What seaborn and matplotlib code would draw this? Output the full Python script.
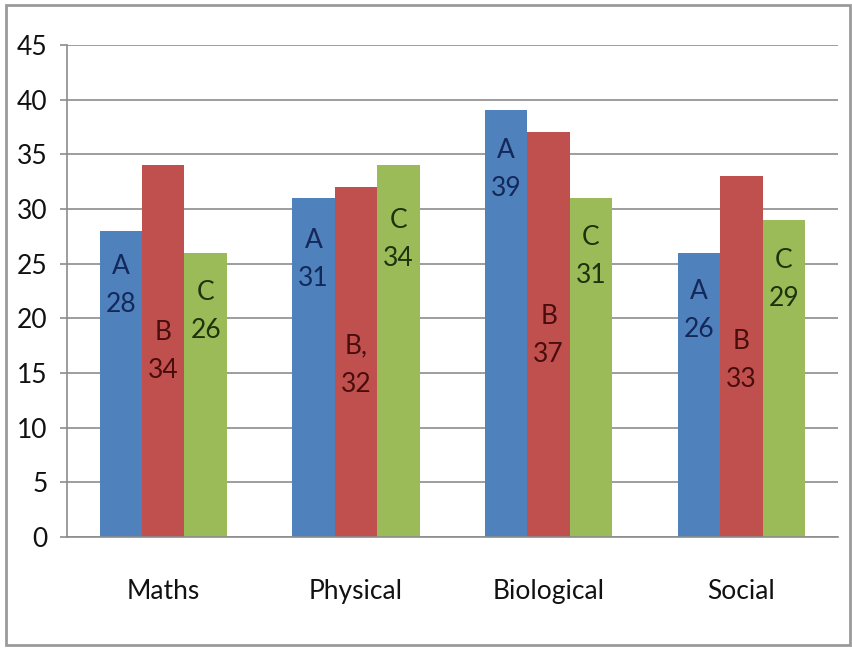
import matplotlib.pyplot as plt
import numpy as np
import pandas as pd
import seaborn as sns
from matplotlib.patches import Rectangle

# chart data
subjects = ["Maths", "Physical", "Biological", "Social"]
groups = ["A", "B", "C"]
scores_a = [28, 31, 39, 26]
scores_b = [34, 32, 37, 33]
scores_c = [26, 34, 31, 29]
# label text per group (Physical B has a stray comma in the original)
label_a = ["A", "A", "A", "A"]
label_b = ["B", "B,", "B", "B"]
label_c = ["C", "C", "C", "C"]

# where the data labels sit inside the bars (data units, centre of the two lines)
label_y = {
    "A": [23.0, 25.4, 33.6, 20.7],
    "B": [17.0, 15.7, 18.4, 16.1],
    "C": [20.6, 27.2, 25.6, 23.5],
}

df = pd.DataFrame({
    "subject": subjects * 3,
    "group": ["A"] * 4 + ["B"] * 4 + ["C"] * 4,
    "score": scores_a + scores_b + scores_c,
    "tag": label_a + label_b + label_c,
})

sns.set_style("white")
plt.rcParams["font.family"] = ["Lato", "DejaVu Sans"]

bar_colors = {"A": "#4F81BD", "B": "#C0504D", "C": "#9BBB59"}
text_colors = {"A": "#14285a", "B": "#4a0d0d", "C": "#1c330c"}

fig = plt.figure(figsize=(8.53, 6.5), dpi=100)
ax = fig.add_axes([0.0785, 0.174, 0.9035, 0.757])

sns.barplot(data=df, x="subject", y="score", hue="group", order=subjects,
            hue_order=groups, palette=bar_colors, width=0.66, gap=0,
            saturation=1, linewidth=0, legend=False, ax=ax)

# data labels, two lines each, drawn at the bar centres
for cont, g in zip(ax.containers, groups):
    sub = df[df["group"] == g].set_index("subject").loc[subjects]
    for bar, tag, val, ly in zip(cont, sub["tag"], sub["score"], label_y[g]):
        xc = bar.get_x() + bar.get_width() / 2
        ax.text(xc, ly, f"{tag}\n{val}", ha="center", va="center",
                fontsize=19, color=text_colors[g], linespacing=1.65)

ax.set_ylim(0, 45)
ax.set_yticks(np.arange(0, 46, 5))
ax.set_xlim(-0.5, len(subjects) - 0.5)
ax.set_xlabel("")
ax.set_ylabel("")
ax.yaxis.grid(True, color="#8c8c8c", linewidth=1.2)
ax.set_axisbelow(True)

ax.set_xticks(np.arange(-0.5, len(subjects)), minor=True)
ax.tick_params(axis="x", which="major", length=0, pad=30, labelsize=19, labelcolor="#111111")
ax.tick_params(axis="x", which="minor", length=8, width=1.2, color="#8c8c8c", direction="out")
ax.tick_params(axis="y", length=5, width=1.2, color="#8c8c8c", pad=9, labelsize=19,
               labelcolor="#111111", left=True)

for side in ["top", "right"]:
    ax.spines[side].set_visible(False)
for side in ["left", "bottom"]:
    ax.spines[side].set_color("#8c8c8c")
    ax.spines[side].set_linewidth(1.2)

# outer chart border
fig.patches.append(Rectangle((0.007, 0.008), 0.99, 0.984, transform=fig.transFigure,
                             fill=False, edgecolor="#9a9a9a", linewidth=2))

fig.savefig("out.png", dpi=100)
